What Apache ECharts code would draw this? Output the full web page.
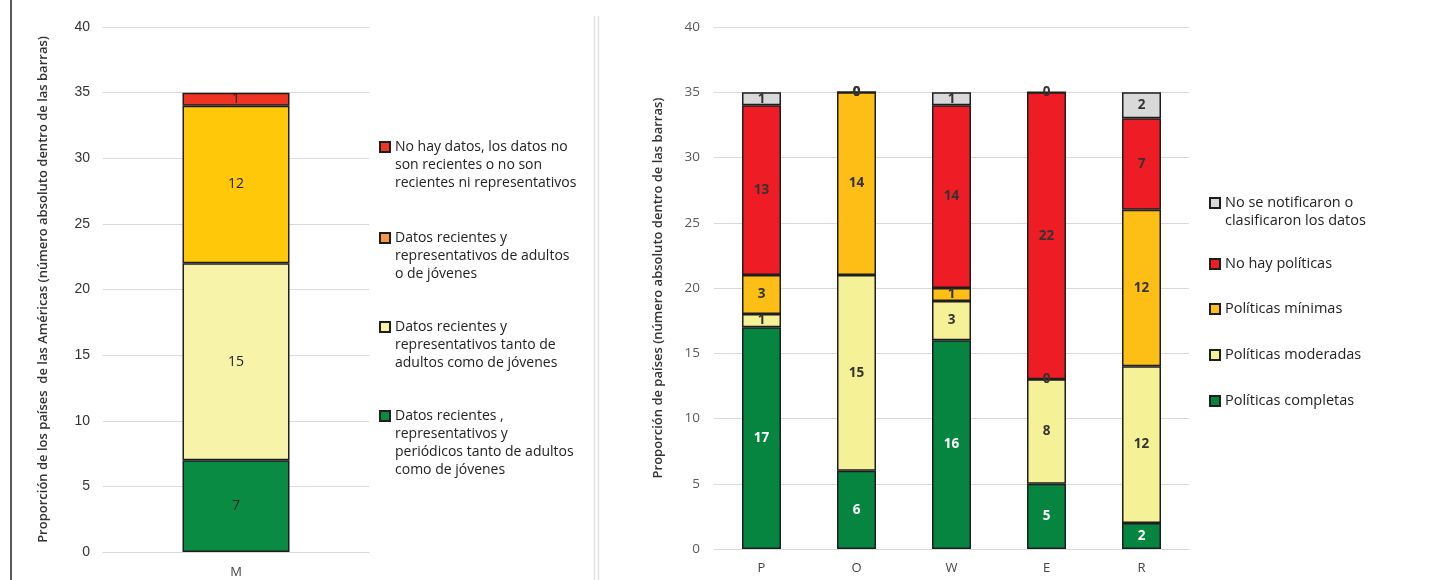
<!DOCTYPE html>
<html>
<head>
<meta charset="utf-8">
<script src="https://cdn.jsdelivr.net/npm/echarts@6/dist/echarts.min.js"></script>
<style>
html,body{margin:0;padding:0;background:#fff;}
#chart{width:1440px;height:580px;}
</style>
</head>
<body>
<div id="chart"></div>
<script>
// ---- Data ----
const leftCategories = ['M'];
const leftNames = [
  'No hay datos, los datos no\nson recientes o no son\nrecientes ni representativos',
  'Datos recientes y\nrepresentativos de adultos\no de jóvenes',
  'Datos recientes y\nrepresentativos tanto de\nadultos como de jóvenes',
  'Datos recientes ,\nrepresentativos y\nperiódicos tanto de adultos\ncomo de jóvenes'
];
const leftNoData = [1];
const leftAdultOrYouth = [12];
const leftAdultAndYouth = [15];
const leftPeriodic = [7];

const rightCategories = ['P', 'O', 'W', 'E', 'R'];
const rightNames = [
  'No se notificaron o\nclasificaron los datos',
  'No hay políticas',
  'Políticas mínimas',
  'Políticas moderadas',
  'Políticas completas'
];
const noNotificados = [1, 0, 1, 0, 2];
const noPoliticas = [13, 0, 14, 22, 7];
const minimas = [3, 14, 1, 0, 12];
const moderadas = [1, 15, 3, 8, 12];
const completas = [17, 6, 16, 5, 2];

const yTicksMax = 40;
const yInterval = 5;

// ---- Styles ----
const FONT = 'Open Sans';
const border = { borderColor: '#1e1e1e', borderWidth: 1.5 };

function leftSeries(name, data, color, labelColor) {
  return {
    name, type: 'bar', stack: 'L', xAxisIndex: 0, yAxisIndex: 0,
    data, barWidth: 107,
    itemStyle: Object.assign({ color }, border),
    label: { show: true, position: 'inside', color: labelColor || '#222',
      fontFamily: FONT, fontSize: 14 }
  };
}
function rightSeries(name, data, color, labelColor) {
  return {
    name, type: 'bar', stack: 'R', xAxisIndex: 1, yAxisIndex: 1,
    data, barWidth: 39,
    itemStyle: Object.assign({ color }, border),
    label: { show: true, position: 'inside', color: labelColor || '#333',
      fontFamily: FONT, fontSize: 13.5, fontWeight: 'bold' }
  };
}

function legendItem(name, firstLineY, left, fontSize, iconColor) {
  const n = name.split('\n').length;
  const lh = 18;
  const item = { name };
  if (iconColor) item.itemStyle = { color: iconColor };
  return {
    show: true, orient: 'vertical', left, top: firstLineY - lh / 2 - (n - 1) * lh,
    padding: 0, itemWidth: 10, itemHeight: 10, icon: 'rect', selectedMode: false,
    formatter: function (nm) { return '\n'.repeat(n - 1) + nm; },
    textStyle: { fontFamily: FONT, fontSize, lineHeight: lh, color: '#222' },
    data: [item]
  };
}

const leftLegendY = [147, 238, 327, 416];
const rightLegendY = [203, 264, 309, 355, 401];

const yAxisCommon = {
  type: 'value', min: 0, max: yTicksMax, interval: yInterval,
  nameLocation: 'middle',
  nameTextStyle: { fontFamily: FONT, fontSize: 13, fontWeight: 600, color: '#333' },
  axisLine: { show: false }, axisTick: { show: false },
  splitLine: { lineStyle: { color: '#d9d9d9', width: 1 } }
};

const option = {
  backgroundColor: '#fff',
  animation: false,
  grid: [
    { left: 103, right: 1440 - 369, top: 27, bottom: 28 },
    { left: 714, right: 1440 - 1189, top: 27, bottom: 31 }
  ],
  xAxis: [
    { type: 'category', gridIndex: 0, data: leftCategories,
      axisLine: { lineStyle: { color: '#d9d9d9' } }, axisTick: { show: false },
      axisLabel: { margin: 14, fontFamily: FONT, fontSize: 13, color: '#444' } },
    { type: 'category', gridIndex: 1, data: rightCategories,
      axisLine: { lineStyle: { color: '#d9d9d9' } }, axisTick: { show: false },
      axisLabel: { margin: 13, fontFamily: FONT, fontSize: 13, color: '#444' } }
  ],
  yAxis: [
    Object.assign({}, yAxisCommon, { gridIndex: 0,
      name: 'Proporción de los países  de las Américas (número absoluto dentro de las barras)',
      nameGap: 53,
      axisLabel: { margin: 13, fontFamily: 'Liberation Sans', fontSize: 14, color: '#333' } }),
    Object.assign({}, yAxisCommon, { gridIndex: 1,
      name: 'Proporción de países (número absoluto dentro de las barras)',
      nameGap: 49,
      axisLabel: { margin: 14, fontFamily: FONT, fontSize: 13.5, color: '#595959' } })
  ],
  legend: [
    legendItem(leftNames[0], leftLegendY[0], 379, 14),
    legendItem(leftNames[1], leftLegendY[1], 379, 14, '#F79646'),
    legendItem(leftNames[2], leftLegendY[2], 379, 14),
    legendItem(leftNames[3], leftLegendY[3], 379, 14),
    legendItem(rightNames[0], rightLegendY[0], 1209, 14.5),
    legendItem(rightNames[1], rightLegendY[1], 1209, 14.5),
    legendItem(rightNames[2], rightLegendY[2], 1209, 14.5),
    legendItem(rightNames[3], rightLegendY[3], 1209, 14.5),
    legendItem(rightNames[4], rightLegendY[4], 1209, 14.5)
  ],
  series: [
    leftSeries(leftNames[3], leftPeriodic, '#0A8B44'),
    leftSeries(leftNames[2], leftAdultAndYouth, '#F7F3A9'),
    leftSeries(leftNames[1], leftAdultOrYouth, '#FFC90A'),
    leftSeries(leftNames[0], leftNoData, '#EE3524'),
    rightSeries(rightNames[4], completas, '#068541', '#ffffff'),
    rightSeries(rightNames[3], moderadas, '#F5F197'),
    rightSeries(rightNames[2], minimas, '#FDBF16'),
    rightSeries(rightNames[1], noPoliticas, '#EE1C25'),
    rightSeries(rightNames[0], noNotificados, '#D9D9D9')
  ],
  graphic: [
    { type: 'line', shape: { x1: 11, y1: 0, x2: 11, y2: 580 },
      style: { stroke: '#222', lineWidth: 1.5 } },
    { type: 'line', shape: { x1: 594.5, y1: 16, x2: 594.5, y2: 580 },
      style: { stroke: '#e2e2e2', lineWidth: 1.5 } },
    { type: 'line', shape: { x1: 598.5, y1: 16, x2: 598.5, y2: 580 },
      style: { stroke: '#e2e2e2', lineWidth: 1.5 } }
  ]
};

const chart = echarts.init(document.getElementById('chart'));
chart.setOption(option);
</script>
</body>
</html>
